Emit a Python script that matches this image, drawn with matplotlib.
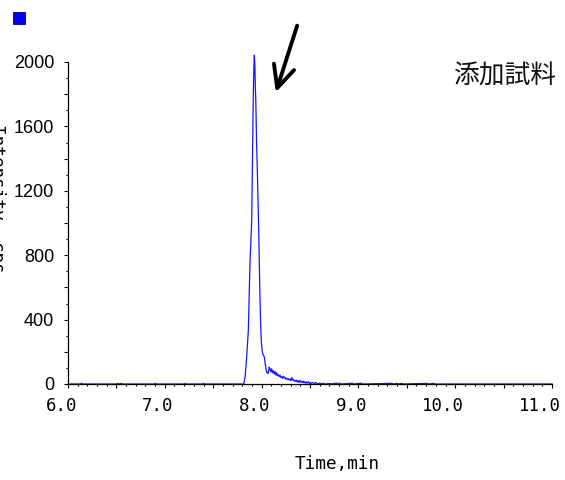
"""
plot.py — Extracted-ion chromatogram of the spiked sample (添加試料).

Single trace, intensity (cps) versus retention time (min), with an arrow
pointing at the analyte peak near 7.9 min.
"""

import matplotlib

matplotlib.use("Agg")
import matplotlib.pyplot as plt
from matplotlib.patches import FancyArrowPatch, Rectangle
from matplotlib.ticker import FuncFormatter, MultipleLocator
from matplotlib.transforms import ScaledTranslation

# ------------------------------------------------------------------ data

time_min = [
    6.00, 6.13, 6.14, 6.15, 6.50, 6.51, 6.53, 6.55, 6.56, 6.89, 6.90, 6.91,
    7.20, 7.21, 7.22, 7.39, 7.40, 7.41, 7.80,
    7.815, 7.830, 7.845, 7.863, 7.872, 7.880, 7.890, 7.898, 7.904, 7.910,
    7.914, 7.920, 7.925, 7.930, 7.935, 7.940, 7.948, 7.956, 7.963, 7.970,
    7.977, 7.983, 7.990, 7.997, 8.005, 8.012, 8.020, 8.028, 8.036, 8.045,
    8.054, 8.062, 8.069, 8.078, 8.087, 8.095, 8.104, 8.112, 8.121, 8.130,
    8.139, 8.148, 8.156, 8.165, 8.174, 8.182, 8.190, 8.199, 8.208, 8.216,
    8.224, 8.233, 8.242, 8.250, 8.259, 8.268, 8.276, 8.285, 8.294, 8.302,
    8.311, 8.320, 8.327, 8.336, 8.345, 8.353, 8.362, 8.370, 8.379, 8.388,
    8.397, 8.405, 8.414, 8.423, 8.431, 8.440, 8.449, 8.458, 8.466, 8.475,
    8.483, 8.492, 8.500, 8.510, 8.520, 8.534, 8.545, 8.560, 8.569, 8.580,
    8.600, 8.615, 8.637, 8.650, 8.707, 8.720, 8.776, 8.790, 8.810, 8.820,
    8.940, 8.950, 9.030, 9.040, 9.350, 9.360, 9.400, 9.410, 9.450, 9.460,
    9.710, 9.720, 9.780, 9.790, 11.00,
]
intensity_cps = [
    0, 0, 5, 0, 0, 4, 0, 4, 0, 0, 4, 0,
    0, 4, 0, 0, 4, 0, 0,
    0, 45, 160, 335, 560, 752, 900, 1019, 1311, 1560,
    1783, 1950, 2043, 1990, 1850, 1760, 1500, 1329, 1150, 957,
    740, 540, 380, 265, 211, 185, 178, 168, 130, 95,
    72, 68, 66, 105, 92, 76, 95, 70, 82, 62,
    78, 55, 70, 52, 58, 45, 55, 40, 45, 35,
    48, 38, 42, 30, 36, 28, 34, 25, 30, 22,
    40, 24, 30, 18, 22, 15, 24, 12, 20, 10,
    22, 12, 16, 8, 18, 8, 14, 5, 12, 6,
    14, 4, 10, 3, 8, 8, 2, 10, 4, 0,
    6, 0, 5, 0, 3, 0, 6, 0, 5, 0,
    5, 0, 5, 0, 4, 0, 4, 0, 4, 0,
    4, 0, 4, 0, 0,
]

x_limits = (6.0, 11.0)
y_limits = (0, 2000)
x_label = "Time,min"
y_label = "Intensity, cps"
sample_label = "添加試料"

TRACE_COLOR = "#1414ff"
DPI = 100


def main() -> None:
    fig = plt.figure(figsize=(565 / DPI, 480 / DPI), dpi=DPI)
    ax = fig.add_axes([68 / 565, 96 / 480, 484 / 565, 322 / 480])

    ax.plot(time_min, intensity_cps, color=TRACE_COLOR, linewidth=0.9,
            clip_on=False, zorder=2)

    ax.set_xlim(*x_limits)
    ax.set_ylim(*y_limits)

    for side in ("top", "right"):
        ax.spines[side].set_visible(False)
    for side in ("left", "bottom"):
        ax.spines[side].set_linewidth(0.9)
        ax.spines[side].set_zorder(2.5)

    # x: ticks every 0.5 min, labels on whole minutes only
    ax.xaxis.set_major_locator(MultipleLocator(0.5))
    ax.xaxis.set_minor_locator(MultipleLocator(0.1))
    ax.xaxis.set_major_formatter(
        FuncFormatter(lambda v, _: f"{v:.1f}" if abs(v - round(v)) < 1e-6 else ""))
    # y: ticks every 200 cps, labels every 400
    ax.yaxis.set_major_locator(MultipleLocator(200))
    ax.yaxis.set_minor_locator(MultipleLocator(100))
    ax.yaxis.set_major_formatter(
        FuncFormatter(lambda v, _: f"{v:.0f}" if int(round(v)) % 400 == 0 else ""))

    ax.tick_params(which="major", direction="out", length=3, width=0.8)
    ax.tick_params(which="minor", direction="out", length=1.6, width=0.8)
    ax.tick_params(axis="x", which="major", pad=6.5)
    ax.tick_params(axis="y", which="major", pad=7)

    for lbl in ax.get_xticklabels():
        lbl.set_fontfamily("DejaVu Sans Mono")
        lbl.set_fontsize(12.5)
        lbl.set_horizontalalignment("right")
        lbl.set_transform(lbl.get_transform()
                          + ScaledTranslation(9 / DPI, 0, fig.dpi_scale_trans))
    for lbl in ax.get_yticklabels():
        lbl.set_fontfamily("Liberation Sans")
        lbl.set_fontsize(13)

    fig.text(337 / 565, 1 - 464 / 480, x_label, family="DejaVu Sans Mono",
             fontsize=12.8, ha="center", va="center")
    # the reference shows this label partly cut off at the left edge
    fig.text(-3 / 565, 1 - 198 / 480, y_label, family="DejaVu Sans Mono",
             fontsize=12.8, rotation=270, ha="center", va="center")

    fig.text(505 / 565, 1 - 77 / 480, sample_label,
             family=["Noto Sans CJK JP", "DejaVu Sans"], fontsize=18.5,
             ha="center", va="center", color="#111111")

    # small legend swatch in the top-left corner
    fig.add_artist(Rectangle((13 / 565, 1 - 24 / 480), 12 / 565, 12 / 480,
                             transform=fig.transFigure, facecolor="#0000ff",
                             edgecolor="#000080", linewidth=0.6))

    # arrow pointing at the peak
    arrow = FancyArrowPatch((298 / 565, 1 - 23 / 480), (275 / 565, 1 - 95 / 480),
                            transform=fig.transFigure,
                            arrowstyle="->,head_length=0.8,head_width=0.38",
                            mutation_scale=20, linewidth=2.8, color="black",
                            capstyle="round", joinstyle="round")
    fig.add_artist(arrow)

    fig.savefig("out.png", dpi=DPI)
    plt.close(fig)


if __name__ == "__main__":
    main()
